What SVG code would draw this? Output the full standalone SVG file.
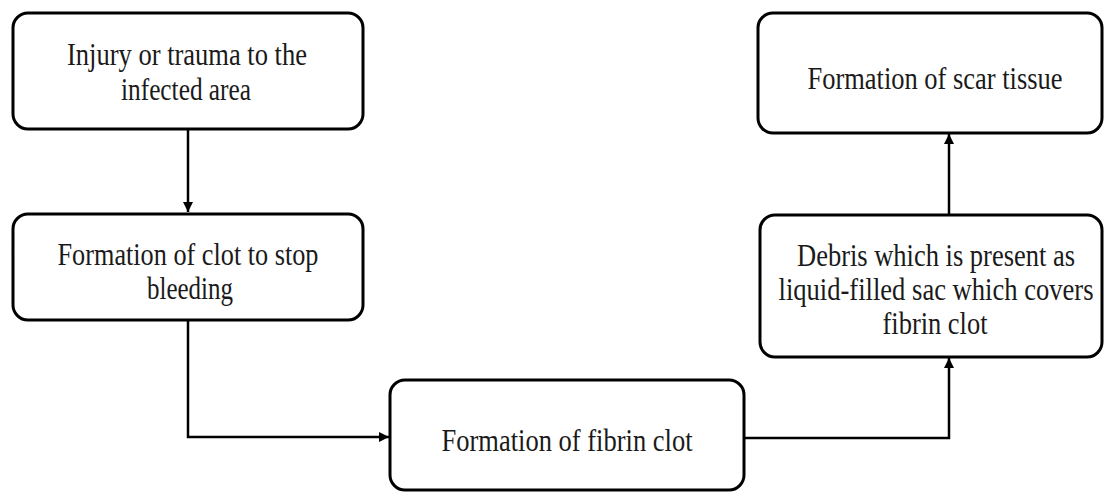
<svg xmlns="http://www.w3.org/2000/svg" width="1104" height="492" viewBox="0 0 1104 492">
<style>
.box{fill:#fff;stroke:#000;stroke-width:3}
.lbl{font-family:"Liberation Serif","Times New Roman",serif;font-size:27px;fill:#1a1a1a;text-anchor:middle}
.conn{fill:none;stroke:#000;stroke-width:2.5}
</style>
<defs>
<marker id="ah" viewBox="0 0 10 10" refX="10" refY="5" markerWidth="4.4" markerHeight="4" orient="auto" markerUnits="strokeWidth">
<path d="M0,0 L10,5 L0,10 z" fill="#000"/>
</marker>
</defs>
<rect width="1104" height="492" fill="#fff"/>
<g id="connectors">
<path class="conn" d="M188,130 V212" marker-end="url(#ah)"/>
<path class="conn" d="M188,320 V437 H389" marker-end="url(#ah)"/>
<path class="conn" d="M744,438 H949 V358" marker-end="url(#ah)"/>
<path class="conn" d="M949,215 V134" marker-end="url(#ah)"/>
</g>
<g id="n1">
<rect class="box" x="13" y="13" width="350" height="116" rx="15"/>
<text class="lbl" transform="translate(187,65) scale(1,1.15)" textLength="240" lengthAdjust="spacingAndGlyphs">Injury or trauma to the</text>
<text class="lbl" transform="translate(186,100) scale(1,1.15)" textLength="130" lengthAdjust="spacingAndGlyphs">infected area</text>
</g>
<g id="n2">
<rect class="box" x="13" y="214" width="350" height="106" rx="15"/>
<text class="lbl" transform="translate(188,265) scale(1,1.15)" textLength="261" lengthAdjust="spacingAndGlyphs">Formation of clot to stop</text>
<text class="lbl" transform="translate(190,299) scale(1,1.15)" textLength="86" lengthAdjust="spacingAndGlyphs">bleeding</text>
</g>
<g id="n3">
<rect class="box" x="390" y="380" width="354" height="110" rx="15"/>
<text class="lbl" transform="translate(567,451) scale(1,1.15)" textLength="251" lengthAdjust="spacingAndGlyphs">Formation of fibrin clot</text>
</g>
<g id="n4">
<rect class="box" x="760" y="215" width="342" height="142" rx="15"/>
<text class="lbl" transform="translate(936,266) scale(1,1.15)" textLength="278" lengthAdjust="spacingAndGlyphs">Debris which is present as</text>
<text class="lbl" transform="translate(936,300) scale(1,1.15)" textLength="315" lengthAdjust="spacingAndGlyphs">liquid-filled sac which covers</text>
<text class="lbl" transform="translate(935,334) scale(1,1.15)" textLength="105" lengthAdjust="spacingAndGlyphs">fibrin clot</text>
</g>
<g id="n5">
<rect class="box" x="758" y="13" width="344" height="120" rx="15"/>
<text class="lbl" transform="translate(935,89) scale(1,1.15)" textLength="255" lengthAdjust="spacingAndGlyphs">Formation of scar tissue</text>
</g>
</svg>
